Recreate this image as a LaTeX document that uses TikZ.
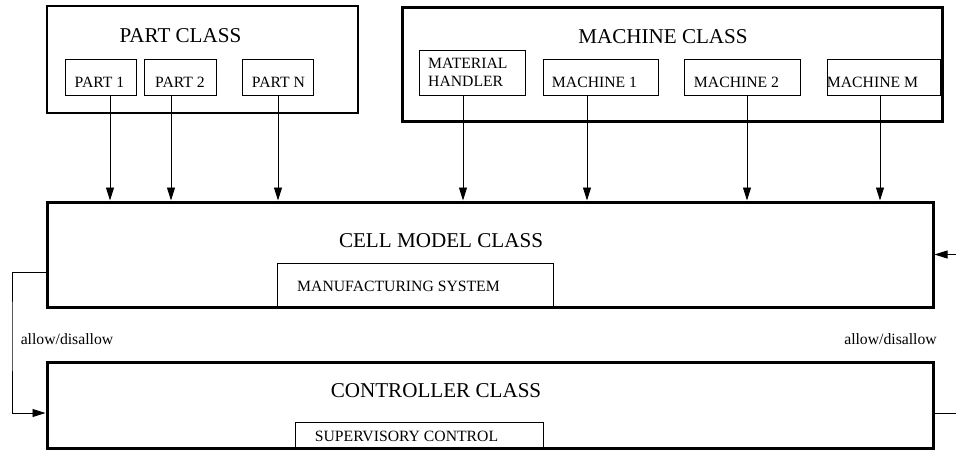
\documentclass[tikz,border=0pt]{standalone}
\usepackage{fontspec}
\setmainfont{Liberation Serif}
\usetikzlibrary{arrows.meta}
\begin{document}
\begin{tikzpicture}[x=1pt,y=-1pt,
  thinbox/.style={draw,line width=1pt,inner sep=0pt},
  classbox/.style={draw,line width=1.7pt,inner sep=0pt},
  heavybox/.style={draw,line width=3pt,inner sep=0pt},
  bigtxt/.style={inner sep=0pt,anchor=base,font=\fontsize{21.1}{25}\selectfont},
  smalltxt/.style={inner sep=0pt,anchor=base,font=\fontsize{15.7}{17.5}\selectfont},
  arr/.style={line width=0.9pt,-{Triangle[length=13pt,width=8pt]}},
  ln/.style={line width=0.9pt}]
\useasboundingbox (0,0) rectangle (956,451);
% part class
\node[classbox,minimum width=311pt,minimum height=107pt] (partcls) at (202.5,59.5) {};
\node[bigtxt] (partt) at (180.5,42.5) {PART CLASS};
\node[thinbox,minimum width=71pt,minimum height=36pt] (p1) at (100.5,77) {};
\node[thinbox,minimum width=72pt,minimum height=36pt] (p2) at (180,77) {};
\node[thinbox,minimum width=71pt,minimum height=36pt] (pN) at (277.5,77) {};
\node[smalltxt] (p1t) at (99.5,87) {PART 1};
\node[smalltxt] (p2t) at (180,87) {PART 2};
\node[smalltxt] (pNt) at (278.5,87) {PART N};
% machine class
\node[heavybox,minimum width=540pt,minimum height=114pt] (machcls) at (672,64) {};
\node[bigtxt] (macht) at (663,43) {MACHINE CLASS};
\node[thinbox,minimum width=106pt,minimum height=45pt] (mh) at (472,72.5) {};
\node[thinbox,minimum width=115pt,minimum height=36pt] (m1) at (600.5,77) {};
\node[thinbox,minimum width=116pt,minimum height=36pt] (m2) at (742,77) {};
\node[thinbox,minimum width=113pt,minimum height=36pt] (mM) at (883.5,77) {};
\node[inner sep=0pt,anchor=north west,align=left,font=\fontsize{15.7}{17.5}\selectfont] (mht) at (428,58.3) {MATERIAL\\HANDLER};
\node[smalltxt] (m1t) at (594.5,87) {MACHINE 1};
\node[smalltxt] (m2t) at (736.5,87) {MACHINE 2};
\node[smalltxt] (mMt) at (872.5,87) {MACHINE M};
% cell model
\node[heavybox,minimum width=886pt,minimum height=105pt] (cell) at (490,254.5) {};
\node[bigtxt] (cellt) at (441,247) {CELL MODEL CLASS};
\node[thinbox,minimum width=276pt,minimum height=44pt] (mfg) at (415,285) {};
\node[smalltxt] (mfgt) at (398.5,291) {MANUFACTURING SYSTEM};
% controller
\node[heavybox,minimum width=886pt,minimum height=86pt] (ctrl) at (490,405) {};
\node[bigtxt] (ctrlt) at (436,397) {CONTROLLER CLASS};
\node[thinbox,minimum width=248pt,minimum height=26pt] (sup) at (419,435) {};
\node[smalltxt] (supt) at (406.5,441) {SUPERVISORY CONTROL};
% labels
\node[smalltxt] (lab1) at (67,344) {allow/disallow};
\node[smalltxt] (lab2) at (890.5,344) {allow/disallow};
% arrows from parts
\draw[arr] ([xshift=9.5pt]p1.south) -- ([xshift=9.5pt]p1.south |- cell.north);
\draw[arr] ([xshift=-9pt]p2.south) -- ([xshift=-9pt]p2.south |- cell.north);
\draw[arr] ([xshift=0.5pt]pN.south) -- ([xshift=0.5pt]pN.south |- cell.north);
% arrows from machines
\draw[arr] ([xshift=-9pt]mh.south) -- ([xshift=-9pt]mh.south |- cell.north);
\draw[arr] ([xshift=-13.5pt]m1.south) -- ([xshift=-13.5pt]m1.south |- cell.north);
\draw[arr] ([xshift=5pt]m2.south) -- ([xshift=5pt]m2.south |- cell.north);
\draw[arr] ([xshift=-3.5pt]mM.south) -- ([xshift=-3.5pt]mM.south |- cell.north);
% feedback
\coordinate (lx) at (12,0);
\draw[arr] ([yshift=-17.5pt]cell.west) -| (lx |- 0,330) |- ([yshift=-8pt]ctrl.west);
\coordinate (rin) at (956,254.5);
\draw[arr] (rin) -- (cell.east);
\coordinate (rout) at (956,413);
\draw[ln] (ctrl.east |- rout) -- (rout);
\end{tikzpicture}
\end{document}
